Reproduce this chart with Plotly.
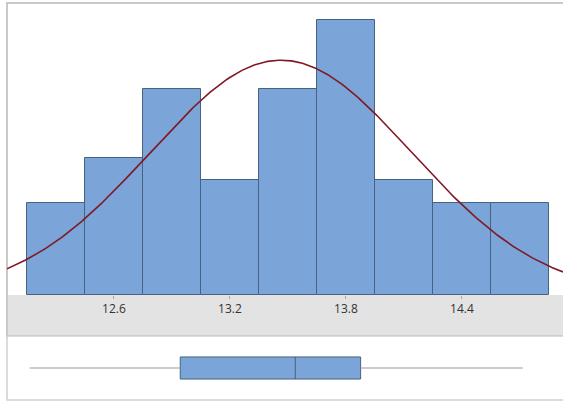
import numpy as np
import plotly.graph_objects as go

# Histogram bins and counts
bin_edges = [12.15, 12.45, 12.75, 13.05, 13.35, 13.65, 13.95, 14.25, 14.55, 14.85]
counts = [4, 6, 9, 5, 9, 12, 5, 4, 4]

# Axis ticks
tick_values = [12.6, 13.2, 13.8, 14.4]
tick_labels = ["12.6", "13.2", "13.8", "14.4"]

# Fitted normal distribution parameters
fit_mean = 13.464
fit_sd = 0.677

# Boxplot summary
box_low = 12.164
box_q1 = 12.943
box_median = 13.538
box_q3 = 13.876
box_high = 14.715

x_range = [12.0465, 14.923]

edges = np.array(bin_edges)
mids = (edges[:-1] + edges[1:]) / 2
bin_width = float(edges[1] - edges[0])
n_total = sum(counts)

xs = np.linspace(x_range[0], x_range[1], 400)
fit_y = n_total * bin_width * np.exp(-0.5 * ((xs - fit_mean) / fit_sd) ** 2) / (fit_sd * np.sqrt(2 * np.pi))

BAR_FILL = "#7BA5D8"
BAR_EDGE = "#46627F"

fig = go.Figure()

fig.add_trace(go.Bar(
    x=mids, y=counts, width=bin_width,
    marker=dict(color=BAR_FILL, line=dict(color=BAR_EDGE, width=1)),
    xaxis="x", yaxis="y", hoverinfo="skip", showlegend=False,
))

fig.add_trace(go.Scatter(
    x=xs, y=fit_y, mode="lines",
    line=dict(color="#7E1A25", width=1.6),
    xaxis="x", yaxis="y", hoverinfo="skip", showlegend=False,
))

# Whiskers as two segments so they stay outside the box
fig.add_trace(go.Scatter(
    x=[box_low, box_q1, None, box_q3, box_high], y=[0, 0, None, 0, 0],
    mode="lines", line=dict(color="#9a9a9a", width=1.2),
    xaxis="x2", yaxis="y2", hoverinfo="skip", showlegend=False,
))

fig.add_trace(go.Box(
    y=[0], q1=[box_q1], median=[box_median], q3=[box_q3],
    lowerfence=[box_q1], upperfence=[box_q3],
    orientation="h", width=0.69, whiskerwidth=0,
    fillcolor=BAR_FILL, line=dict(color=BAR_EDGE, width=1),
    xaxis="x2", yaxis="y2", hoverinfo="skip", showlegend=False,
))

H = 402.0
W = 563.0
left = 7 / W
y_base = (H - 295) / H
y_top = (H - 3) / H
y_band = (H - 336) / H
y_bottom = (H - 400) / H

shapes = [
    dict(type="rect", xref="paper", yref="paper", x0=left, x1=1.02, y0=y_band, y1=y_base,
         fillcolor="#e3e3e3", line=dict(width=0), layer="below"),
    dict(type="rect", xref="paper", yref="paper", x0=left, x1=1.02, y0=y_band, y1=y_top,
         fillcolor="rgba(0,0,0,0)", line=dict(color="#c9c9c9", width=2), layer="below"),
    dict(type="rect", xref="paper", yref="paper", x0=left, x1=1.02, y0=y_bottom, y1=y_band,
         fillcolor="white", line=dict(color="#cfcfcf", width=1.5), layer="below"),
]

fig.update_layout(
    width=563, height=402,
    margin=dict(l=0, r=0, t=0, b=0),
    paper_bgcolor="white", plot_bgcolor="rgba(0,0,0,0)",
    bargap=0, showlegend=False,
    shapes=shapes,
    xaxis=dict(
        domain=[left, 1], range=x_range, anchor="y",
        tickvals=tick_values, ticktext=tick_labels,
        ticks="outside", ticklen=3, tickcolor="#a8a8a8", tickwidth=1,
        showgrid=False, zeroline=False, showline=False,
        tickfont=dict(family="Open Sans", size=12, color="#333333"),
    ),
    yaxis=dict(domain=[y_base, y_top], range=[0, 12.75], visible=False, fixedrange=True),
    xaxis2=dict(domain=[left, 1], range=x_range, anchor="y2", visible=False, matches="x"),
    yaxis2=dict(domain=[y_bottom, y_band], range=[-1, 1], visible=False, fixedrange=True),
)

fig.write_html("out.html")
